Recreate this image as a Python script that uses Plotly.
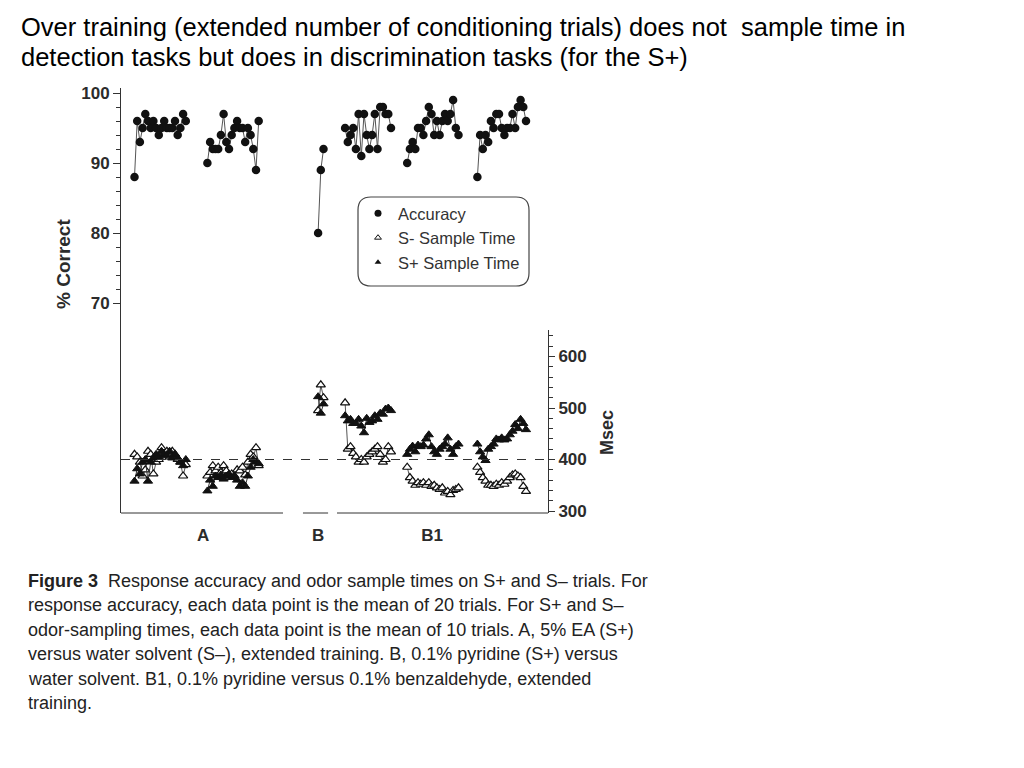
import plotly.graph_objects as go

# ---------------- data ----------------
block_names = ["A1", "A2", "B", "B1a", "B1b", "B1c"]
block_start_session = [5, 32, 73, 83, 106, 132]

acc_A1 = [88, 96, 93, 95, 97, 96, 95, 96, 95, 94, 95, 96, 95, 95, 95, 96, 94, 95, 97, 96]
acc_A2 = [90, 93, 92, 92, 92, 94, 97, 93, 92, 94, 95, 96, 95, 95, 93, 95, 94, 92, 89, 96]
acc_B = [80, 89, 92]
acc_B1a = [95, 93, 94, 95, 92, 97, 91, 97, 94, 92, 94, 97, 92, 98, 98, 97, 97, 95]
acc_B1b = [90, 92, 93, 92, 95, 95, 94, 96, 98, 97, 94, 96, 94, 96, 97, 96, 97, 99, 95, 94]
acc_B1c = [88, 94, 92, 94, 93, 96, 95, 97, 97, 95, 94, 95, 95, 97, 95, 98, 99, 98, 96]

splus_A1 = [358, 382, 372, 395, 400, 358, 395, 403, 410, 405, 416, 410, 408, 416, 403, 410, 403, 395, 388, 400]
splus_A2 = [339, 360, 348, 368, 365, 370, 362, 368, 372, 365, 368, 360, 348, 355, 348, 368, 385, 400, 395, 392]
splus_B = [522, 490, 508]
splus_B1a = [485, 475, 478, 470, 470, 478, 465, 452, 480, 472, 475, 485, 478, 490, 488, 498, 500, 495]
splus_B1b = [410, 420, 426, 415, 428, 425, 428, 440, 448, 425, 415, 410, 420, 425, 430, 442, 420, 410, 425, 430]
splus_B1c = [430, 415, 405, 398, 420, 425, 430, 440, 438, 442, 438, 440, 448, 455, 468, 460, 478, 470, 458]

sminus_A1 = [410, 405, 395, 368, 380, 416, 410, 372, 395, 400, 423, 410, 416, 405, 416, 410, 400, 395, 368, 390]
sminus_A2 = [368, 375, 388, 378, 385, 375, 388, 378, 370, 372, 368, 380, 378, 385, 370, 395, 410, 405, 423, 388]
sminus_B = [495, 545, 520]
sminus_B1a = [510, 420, 425, 412, 405, 395, 400, 395, 405, 410, 415, 420, 425, 410, 395, 400, 425, 415]
sminus_B1b = [385, 365, 358, 350, 355, 352, 355, 350, 355, 348, 350, 345, 342, 345, 335, 338, 332, 340, 342, 345]
sminus_B1c = [385, 375, 365, 358, 350, 350, 348, 352, 350, 355, 352, 358, 365, 370, 372, 368, 365, 348, 338]

group_labels = ["A", "B", "B1"]
group_label_session = [30.4, 73, 115.2]

pct_ticks = [70, 80, 90, 100]
msec_ticks = [300, 400, 500, 600]
criterion_msec = 400

title_lines = [
    "Over training (extended number of conditioning trials) does not  sample time in",
    "detection tasks but does in discrimination tasks (for the S+)",
]
caption_lines = [
    "<b>Figure 3</b>  Response accuracy and odor sample times on S+ and S– trials. For",
    "response accuracy, each data point is the mean of 20 trials. For S+ and S–",
    "odor-sampling times, each data point is the mean of 10 trials. A, 5% EA (S+)",
    "versus water solvent (S–), extended training. B, 0.1% pyridine (S+) versus",
    "water solvent. B1, 0.1% pyridine versus 0.1% benzaldehyde, extended",
    "training.",
]


def join_blocks(blocks):
    xs, ys = [], []
    for start, vals in zip(block_start_session, blocks):
        if xs:
            xs.append(None)
            ys.append(None)
        xs.extend(range(start, start + len(vals)))
        ys.extend(vals)
    return xs, ys


acc_x, acc_y = join_blocks([acc_A1, acc_A2, acc_B, acc_B1a, acc_B1b, acc_B1c])
sp_x, sp_y = join_blocks([splus_A1, splus_A2, splus_B, splus_B1a, splus_B1b, splus_B1c])
sm_x, sm_y = join_blocks([sminus_A1, sminus_A2, sminus_B, sminus_B1a, sminus_B1b, sminus_B1c])

# ---------------- geometry ----------------
W, H = 1024, 768
L, R, T, B = 121, 548, 88, 513
PW, PH = R - L, B - T
X_MAX = 158.15


def px_x(px):
    return (px - L) / PW


def px_y(py):
    return (B - py) / PH


FONT = "Liberation Sans, Arial, sans-serif"
INK = "#2b2b2b"

fig = go.Figure()

fig.add_trace(go.Scatter(
    x=sm_x, y=sm_y, yaxis="y2", mode="lines+markers", showlegend=False,
    line=dict(color="#555", width=1),
    marker=dict(symbol="triangle-up", size=8, color="white", line=dict(color="#111", width=1.2)),
))
fig.add_trace(go.Scatter(
    x=sp_x, y=sp_y, yaxis="y2", mode="lines+markers", showlegend=False,
    line=dict(color="#333", width=1),
    marker=dict(symbol="triangle-up", size=8, color="#111", line=dict(color="#111", width=1)),
))
fig.add_trace(go.Scatter(
    x=acc_x, y=acc_y, mode="lines+markers", showlegend=False,
    line=dict(color="#555", width=1),
    marker=dict(symbol="circle", size=8.5, color="#111"),
))

# legend-only entries
fig.add_trace(go.Scatter(x=[None], y=[None], mode="markers", name="Accuracy", legendgroup="g1",
                         marker=dict(symbol="circle", size=7, color="#111")))
fig.add_trace(go.Scatter(x=[None], y=[None], mode="markers", name="S- Sample Time", legendgroup="g2",
                         marker=dict(symbol="triangle-up", size=6, color="white", line=dict(color="#111", width=1))))
fig.add_trace(go.Scatter(x=[None], y=[None], mode="markers", name="S+ Sample Time", legendgroup="g3",
                         marker=dict(symbol="triangle-up", size=6, color="#111")))

pct_minor = [v for v in range(70, 101, 2) if v not in pct_ticks]
msec_minor = [v for v in range(300, 641, 20) if v not in msec_ticks]

y2_top_px = 330
y2_lo = 300 - (B - 511) / 0.517
y2_hi = 400 + (460 - y2_top_px) / 0.517

fig.update_layout(
    width=W, height=H, autosize=False,
    margin=dict(l=L, r=W - R, t=T, b=H - B, pad=0),
    paper_bgcolor="white", plot_bgcolor="white",
    font=dict(family=FONT, color=INK),
    xaxis=dict(range=[0, X_MAX], showgrid=False, zeroline=False, showline=False,
               tickvals=group_label_session, ticktext=group_labels, ticks="outside", ticklen=0,
               ticklabelstandoff=7,
               tickfont=dict(family=FONT, size=17, color=INK, weight="bold")),
    yaxis=dict(range=[40, 100 + (93 - T) / 7], domain=[0, 1], showgrid=False, zeroline=False,
               showline=True, linecolor="#333", linewidth=1, mirror=False,
               tickvals=pct_ticks, ticks="outside", ticklen=7, tickcolor="#333",
               minor=dict(tickvals=pct_minor, ticks="outside", ticklen=4, tickcolor="#333"),
               tickfont=dict(family=FONT, size=17, color=INK, weight="bold")),
    yaxis2=dict(range=[y2_lo, y2_hi], domain=[0, (B - y2_top_px) / PH], anchor="x", side="right",
                showgrid=False, zeroline=False, showline=True, linecolor="#333", linewidth=1,
                tickvals=msec_ticks, ticks="outside", ticklen=6, tickcolor="#333",
                minor=dict(tickvals=msec_minor, ticks="outside", ticklen=4, tickcolor="#333"),
                tickfont=dict(family=FONT, size=17, color=INK, weight="bold")),
    legend=dict(x=px_x(358), y=px_y(196), xanchor="left", yanchor="top",
                bgcolor="rgba(0,0,0,0)", borderwidth=0, tracegroupgap=0,
                font=dict(family=FONT, size=16.5, color="#333")),
)

# broken x axis baseline
for x0, x1 in [(0, 60), (67.4, 76.7), (80, X_MAX)]:
    fig.add_shape(type="line", xref="x", yref="paper", x0=x0, x1=x1, y0=0, y1=0,
                  line=dict(color="#333", width=1))

# dashed 400 msec reference
fig.add_shape(type="line", xref="x domain", yref="y2", x0=0, x1=1, y0=criterion_msec, y1=criterion_msec,
              line=dict(color="#333", width=1, dash="dash"))

# rounded legend box
bx0, bx1, by0, by1, r = 358, 529, 197, 286, 13
path = (f"M {px_x(bx0 + r)} {px_y(by0)} L {px_x(bx1 - r)} {px_y(by0)} "
        f"Q {px_x(bx1)} {px_y(by0)} {px_x(bx1)} {px_y(by0 + r)} "
        f"L {px_x(bx1)} {px_y(by1 - r)} Q {px_x(bx1)} {px_y(by1)} {px_x(bx1 - r)} {px_y(by1)} "
        f"L {px_x(bx0 + r)} {px_y(by1)} Q {px_x(bx0)} {px_y(by1)} {px_x(bx0)} {px_y(by1 - r)} "
        f"L {px_x(bx0)} {px_y(by0 + r)} Q {px_x(bx0)} {px_y(by0)} {px_x(bx0 + r)} {px_y(by0)} Z")
fig.add_shape(type="path", xref="paper", yref="paper", path=path, line=dict(color="#444", width=1.2))

# axis titles
fig.add_annotation(text="<b>% Correct</b>", xref="paper", yref="paper", x=px_x(63), y=px_y(264),
                   textangle=-90, showarrow=False, font=dict(family=FONT, size=19, color=INK),
                   xanchor="center", yanchor="middle")
fig.add_annotation(text="<b>Msec</b>", xref="paper", yref="paper", x=px_x(607), y=px_y(433),
                   textangle=-90, showarrow=False, font=dict(family=FONT, size=18, color=INK),
                   xanchor="center", yanchor="middle")

# title
for i, line in enumerate(title_lines):
    fig.add_annotation(text=line, xref="paper", yref="paper", x=px_x(19), y=px_y(27 + 30 * i),
                       xanchor="left", yanchor="middle", showarrow=False,
                       font=dict(family=FONT, size=25.5, color="black"))

# caption
for i, line in enumerate(caption_lines):
    fig.add_annotation(text=line, xref="paper", yref="paper", x=px_x(26), y=px_y(581 + 24.4 * i),
                       xanchor="left", yanchor="middle", showarrow=False,
                       font=dict(family=FONT, size=18, color="#222"))

fig.write_html("out.html", post_script="document.body.style.margin='0';",
               config={"displayModeBar": False})
